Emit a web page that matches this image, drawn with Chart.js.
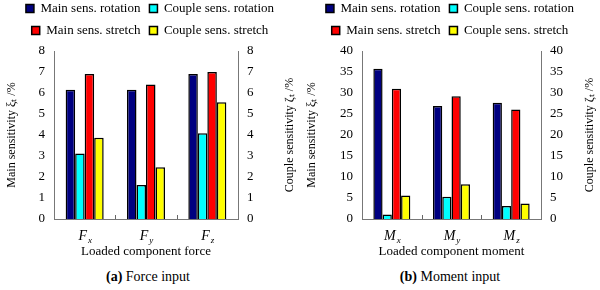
<!DOCTYPE html>
<html>
<head>
<meta charset="utf-8">
<script src="https://cdn.jsdelivr.net/npm/chart.js@4.4.1/dist/chart.umd.min.js"></script>
<style>
  body { margin: 0; background: #fff; width: 600px; height: 290px; position: relative; overflow: hidden; }
  .box { position: absolute; top: 0; width: 300px; height: 262px; }
  .cap { position: absolute; top: 269px; width: 300px; text-align: center; font: 14px "Liberation Serif", serif; color: #000; }
</style>
</head>
<body>
<div class="box" style="left:0"><canvas id="force" width="300" height="262"></canvas></div>
<div class="box" style="left:300px"><canvas id="moment" width="300" height="262"></canvas></div>
<div class="cap" style="left:-2px"><b>(a)</b> Force input</div>
<div class="cap" style="left:300px"><b>(b)</b> Moment input</div>
<script>
var seriesNames = ["Main sens. rotation", "Couple sens. rotation", "Main sens. stretch", "Couple sens. stretch"];
var seriesColors = ["#000080", "#00ffff", "#ff0000", "#ffff00"];

var forceLabels = ["Fx", "Fy", "Fz"];
var forceMainRot = [6.15, 6.15, 6.9];
var forceCoupleRot = [3.12, 1.62, 4.08];
var forceMainStr = [6.9, 6.4, 7.0];
var forceCoupleStr = [3.87, 2.47, 5.56];

var momentLabels = ["Mx", "My", "Mz"];
var momentMainRot = [35.8, 26.9, 27.7];
var momentCoupleRot = [1.1, 5.3, 3.1];
var momentMainStr = [31.0, 29.2, 26.1];
var momentCoupleStr = [5.6, 8.3, 3.7];

var serif = '"Liberation Serif", "Times New Roman", serif';
var leftTitle = "Main sensitivity \u03be\u209c /%";
var rightTitle = "Couple sensitivity \u03b6\u209c /%";

// x labels with italic letter + subscript, inner ticks between groups, axis titles read bottom-up
var extras = {
  id: "extras",
  afterDraw: function (chart) {
    var xs = chart.scales.x, ctx = chart.ctx, area = chart.chartArea, bottom = area.bottom;
    ctx.save();
    ctx.fillStyle = "#000";
    ctx.textBaseline = "alphabetic";
    chart.data.labels.forEach(function (lab, i) {
      var x = xs.getPixelForTick(i);
      var main = lab[0], sub = lab.slice(1);
      ctx.font = "italic 14px " + serif;
      var w1 = ctx.measureText(main).width;
      ctx.font = "italic 9px " + serif;
      var w2 = ctx.measureText(sub).width;
      var x0 = x - (w1 + w2) / 2;
      ctx.font = "italic 14px " + serif;
      ctx.fillText(main, x0, bottom + 21);
      ctx.font = "italic 9px " + serif;
      ctx.fillText(sub, x0 + w1 + 1, bottom + 24);
    });
    ctx.strokeStyle = "#666";
    ctx.lineWidth = 1;
    for (var i = 1; i < chart.data.labels.length; i++) {
      var xb = Math.round((xs.getPixelForTick(i - 1) + xs.getPixelForTick(i)) / 2) + 0.5;
      ctx.beginPath();
      ctx.moveTo(xb, bottom);
      ctx.lineTo(xb, bottom - 4);
      ctx.stroke();
    }
    ctx.font = "12px " + serif;
    ctx.textAlign = "center";
    ctx.textBaseline = "middle";
    var midY = (area.top + area.bottom) / 2;
    [[12, leftTitle], [chart.width - 10, rightTitle]].forEach(function (t) {
      ctx.save();
      ctx.translate(t[0], midY);
      ctx.rotate(-Math.PI / 2);
      ctx.fillText(t[1], 0, 0);
      ctx.restore();
    });
    ctx.restore();
  }
};

function makeChart(id, labels, values, max, step, xTitle, leftW, rightW) {
  var datasets = values.map(function (v, i) {
    return {
      label: seriesNames[i],
      data: v,
      backgroundColor: seriesColors[i],
      borderColor: "#000",
      borderWidth: 1.5,
      yAxisID: i % 2 === 0 ? "y" : "y1",
      categoryPercentage: 0.62,
      barPercentage: 1.0
    };
  });
  var yAxis = function (pos, w) {
    return {
      position: pos,
      min: 0, max: max,
      grid: { display: false, drawTicks: false },
      border: { display: true, color: "#777", width: 1 },
      ticks: { stepSize: step, padding: 9, color: "#000", font: { family: serif, size: 13 } },
      afterFit: function (s) { s.width = w; }
    };
  };
  return new Chart(document.getElementById(id), {
    type: "bar",
    data: { labels: labels, datasets: datasets },
    plugins: [extras, {
      id: "legendHeight",
      beforeInit: function (chart) {
        var fit = chart.legend.fit;
        chart.legend.fit = function () { fit.bind(chart.legend)(); this.height = 58; };
      }
    }],
    options: {
      responsive: false,
      animation: false,
      layout: { padding: { top: -7, bottom: 0, left: 0, right: 0 } },
      plugins: {
        legend: {
          position: "top",
          labels: { boxWidth: 8, boxHeight: 8, padding: 9, color: "#000", font: { family: serif, size: 13 } }
        },
        tooltip: { enabled: false }
      },
      scales: {
        x: {
          grid: { display: false, drawTicks: false },
          border: { display: true, color: "#777", width: 1 },
          ticks: { display: false },
          title: { display: true, text: xTitle, color: "#000", font: { family: serif, size: 13 }, padding: { top: 0, bottom: 3 } },
          afterFit: function (s) { s.height = 43; }
        },
        y: yAxis("left", leftW),
        y1: yAxis("right", rightW)
      }
    }
  });
}

makeChart("force", forceLabels, [forceMainRot, forceCoupleRot, forceMainStr, forceCoupleStr], 8, 1, "Loaded component force", 54, 62);
makeChart("moment", momentLabels, [momentMainRot, momentCoupleRot, momentMainStr, momentCoupleStr], 40, 5, "Loaded component moment", 62, 59);
</script>
</body>
</html>
